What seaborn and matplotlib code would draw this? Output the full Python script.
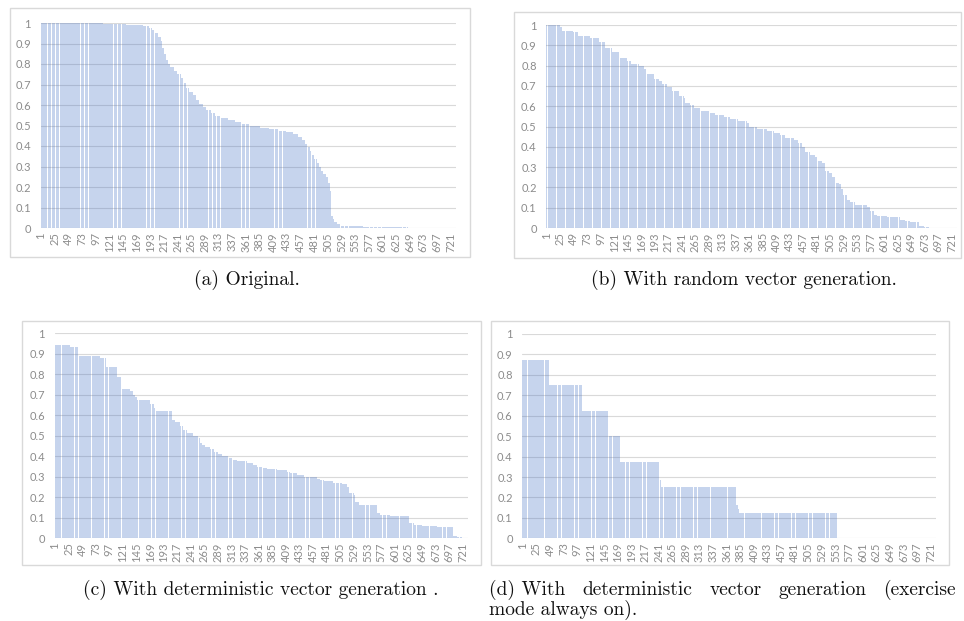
import numpy as np
import pandas as pd
import matplotlib
matplotlib.use("Agg")
import matplotlib.pyplot as plt
import seaborn as sns
from matplotlib.patches import Rectangle

# sorted scores per rank, stored as runs: (count of bars, value)
a_counts = [60, 50, 40, 30, 10, 5, 6, 6, 4, 3, 3, 3, 3, 5, 6, 6, 6, 5, 5, 5,
            6, 6, 6, 6, 6, 8, 8, 10, 12, 12, 12, 14, 18, 16, 16, 14, 12, 10, 7, 5,
            4, 4, 4, 4, 4, 4, 4, 4, 4, 4, 3, 2, 3, 3, 4, 6, 10, 30, 40, 40,
            20, 64]
a_values = [1.0, 0.998, 0.996, 0.992, 0.985, 0.975, 0.965, 0.95, 0.93, 0.91, 0.88, 0.85, 0.82, 0.80, 0.785, 0.765, 0.75, 0.73, 0.705, 0.685,
            0.665, 0.65, 0.625, 0.605, 0.59, 0.575, 0.56, 0.545, 0.535, 0.525, 0.515, 0.505, 0.498, 0.49, 0.482, 0.475, 0.467, 0.457, 0.445, 0.43,
            0.41, 0.395, 0.375, 0.355, 0.335, 0.315, 0.30, 0.28, 0.265, 0.25, 0.22, 0.18, 0.06, 0.045, 0.03, 0.018, 0.012, 0.008, 0.005, 0.003,
            0.001, 0.0]

b_counts = [24, 4, 20, 9, 21, 16, 11, 12, 12, 14, 8, 14, 8, 5, 13, 10, 4, 9, 9, 12,
            9, 3, 8, 8, 12, 16, 9, 15, 11, 15, 15, 5, 13, 18, 12, 12, 9, 15, 8, 6,
            6, 9, 9, 4, 8, 6, 6, 6, 6, 6, 3, 5, 6, 6, 9, 21, 6, 6, 6, 17,
            15, 8, 10, 9, 15, 9, 9, 14, 36]
b_values = [1.0, 0.99, 0.972, 0.965, 0.946, 0.938, 0.915, 0.888, 0.865, 0.838, 0.825, 0.808, 0.80, 0.785, 0.758, 0.735, 0.725, 0.71, 0.696, 0.675,
            0.648, 0.64, 0.618, 0.605, 0.59, 0.575, 0.565, 0.555, 0.545, 0.535, 0.525, 0.515, 0.50, 0.49, 0.48, 0.47, 0.458, 0.445, 0.435, 0.42,
            0.40, 0.375, 0.36, 0.35, 0.33, 0.32, 0.28, 0.27, 0.25, 0.222, 0.215, 0.19, 0.165, 0.14, 0.13, 0.115, 0.105, 0.085, 0.066, 0.06,
            0.055, 0.052, 0.04, 0.033, 0.028, 0.008, 0.005, 0.002, 0.0]

c_counts = [27, 15, 38, 11, 19, 9, 14, 5, 4, 3, 24, 6, 3, 29, 6, 9, 4, 7, 12, 9,
            3, 3, 6, 9, 6, 8, 6, 12, 6, 9, 17, 12, 6, 9, 9, 17, 18, 6, 12, 12,
            23, 5, 7, 17, 15, 9, 3, 9, 3, 6, 32, 6, 18, 32, 9, 14, 27, 12, 16, 7,
            9, 11]
c_values = [0.945, 0.935, 0.89, 0.88, 0.837, 0.785, 0.73, 0.72, 0.70, 0.69, 0.676, 0.655, 0.635, 0.622, 0.578, 0.565, 0.55, 0.53, 0.515, 0.50,
            0.49, 0.465, 0.455, 0.445, 0.435, 0.42, 0.41, 0.40, 0.39, 0.38, 0.375, 0.368, 0.36, 0.35, 0.345, 0.338, 0.332, 0.325, 0.318, 0.308,
            0.30, 0.29, 0.285, 0.278, 0.272, 0.265, 0.25, 0.22, 0.21, 0.178, 0.162, 0.125, 0.115, 0.108, 0.075, 0.065, 0.06, 0.057, 0.055, 0.012,
            0.005, 0.0]

d_counts = [47, 58, 46, 22, 70, 2, 132, 3, 3, 172, 175]
d_values = [0.875, 0.75, 0.625, 0.5, 0.375, 0.285, 0.25, 0.165, 0.145, 0.125, 0.0]

x_ticks = list(range(1, 731, 24))
y_ticks = [0, 0.1, 0.2, 0.3, 0.4, 0.5, 0.6, 0.7, 0.8, 0.9, 1]
y_labels = ["0", "0.1", "0.2", "0.3", "0.4", "0.5", "0.6", "0.7", "0.8", "0.9", "1"]

captions = ["(a) Original.",
            "(b) With random vector generation.",
            "(c) With deterministic vector generation ."]
caption_d1 = ["(d) With", "deterministic", "vector", "generation", "(exercise"]
caption_d2 = "mode always on)."

sns.set_theme(style="white")
plt.rcParams["font.family"] = ["Lato", "DejaVu Sans"]
cap_font = dict(family=["cmr10", "DejaVu Serif"], fontsize=14, color="#111111")

W, H = 964, 621
fig = plt.figure(figsize=(W / 100, H / 100), dpi=100)
fig.patch.set_facecolor("white")

# pixel layout: axes (left, right, top, bottom), panel frame
panels = [
    (a_counts, a_values, (40.7, 456.0, 23.0, 228.0), (10, 470, 8, 257)),
    (b_counts, b_values, (546.4, 957.0, 25.0, 228.0), (514, 961, 12, 258)),
    (c_counts, c_values, (54.7, 468.0, 333.3, 538.3), (22, 481, 321, 565)),
    (d_counts, d_values, (522.4, 936.0, 334.0, 538.3), (491, 949, 321, 565)),
]
cap_pos = [(247, 280), (744, 280), (261, 590)]

tick_color = "#8c8c8c"
for i, (counts, values, axpos, box) in enumerate(panels):
    x0, x1, yt, yb = axpos
    ax = fig.add_axes([x0 / W, 1 - yb / H, (x1 - x0) / W, (yb - yt) / H])
    df = pd.DataFrame({"rank": np.arange(1, sum(counts) + 1),
                       "score": np.repeat(values, counts)})
    sns.barplot(data=df, x="rank", y="score", native_scale=True, color="#4472c4",
                alpha=0.3, saturation=1, width=0.9, errorbar=None,
                linewidth=0, ax=ax)
    ax.set_xlim(0.5, 730.5)
    ax.set_ylim(0, 1)
    ax.set_yticks(y_ticks)
    ax.set_yticklabels(y_labels)
    ax.set_xticks(x_ticks)
    ax.set_xticklabels([str(t) for t in x_ticks], rotation=90)
    ax.tick_params(axis="both", length=0, labelsize=8, colors=tick_color)
    ax.tick_params(axis="y", pad=7)
    ax.tick_params(axis="x", pad=3)
    ax.set_xlabel("")
    ax.set_ylabel("")
    ax.set_axisbelow(True)
    ax.yaxis.grid(True, color="#d9d9d9", linewidth=0.8)
    ax.xaxis.grid(False)
    for s in ax.spines.values():
        s.set_visible(False)
    ax.set_facecolor("none")

    bx0, bx1, byt, byb = box
    fig.patches.append(Rectangle((bx0 / W, 1 - byb / H), (bx1 - bx0) / W, (byb - byt) / H,
                                 transform=fig.transFigure, fill=False,
                                 edgecolor="#d9d9d9", linewidth=1.0))

for text, (cx, cy) in zip(captions, cap_pos):
    fig.text(cx / W, 1 - cy / H, text, ha="center", va="center", **cap_font)

# caption (d): justified first line between x=489 and x=956
left, right = 489, 956
words = [fig.text(left / W, 1 - 590 / H, w, ha="left", va="center", **cap_font)
         for w in caption_d1]
fig.canvas.draw()
rend = fig.canvas.get_renderer()
widths = [t.get_window_extent(rend).width for t in words]
gap = (right - left - sum(widths)) / (len(words) - 1)
xpos = left
for t, w in zip(words, widths):
    t.set_x(xpos / W)
    xpos += w + gap
fig.text(left / W, 1 - 610 / H, caption_d2, ha="left", va="center", **cap_font)

fig.savefig("out.png", dpi=100)
